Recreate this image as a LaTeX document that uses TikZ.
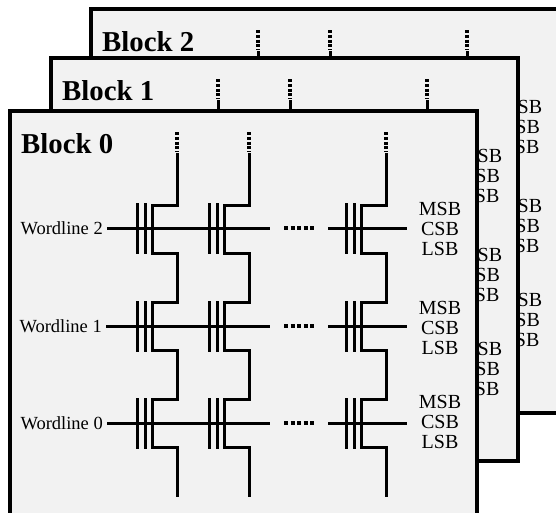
\documentclass[tikz,border=0pt]{standalone}
\usepackage{fontspec}
\setmainfont{Liberation Serif}
\usetikzlibrary{positioning}

\tikzset{
    blockframe/.style={draw=black, fill=black!5, line width=4.2pt, line join=miter},
    blocktitle/.style={anchor=west, inner sep=0pt, font=\bfseries\fontsize{28.8}{30}\selectfont},
    wltext/.style={anchor=east, inner xsep=4pt, inner ysep=0pt, font=\fontsize{18.5}{20}\selectfont},
    bittext/.style={align=center, inner sep=0pt, font=\fontsize{20}{20}\selectfont},
    wire/.style={line width=3pt, line join=miter},
    dotwire/.style={line width=3.8pt, dash pattern=on 3pt off 1.8pt},
    dothoriz/.style={line width=3.4pt, dash pattern=on 4pt off 2.5pt}
}

\begin{document}
\begin{tikzpicture}[x=1pt, y=-1pt]
    \clip (0,0) rectangle (556,512);
    \foreach \bx/\by/\bn/\bb in {81/-102/2/515, 41/-53/1/514, 0/0/0/522} {
        \begin{scope}[shift={(\bx,\by)}]
            \draw[blockframe] (10,111) rectangle (477,\bb);
            \node[blocktitle] (title\bn) at (21,144) {Block \bn};
            \foreach \col in {177,249,386} {
                \draw[dotwire] (\col,132) -- (\col,152);
                \draw[wire] (\col,153) -- (\col,205) -- (\col-25,205) -- (\col-25,253) -- (\col,253)
                    -- (\col,302) -- (\col-25,302) -- (\col-25,350) -- (\col,350)
                    -- (\col,399) -- (\col-25,399) -- (\col-25,447) -- (\col,447) -- (\col,497);
            }
            \foreach \row/\wy/\wx/\ty in {2/228/107/229, 1/326/106/328, 0/423/107/422} {
                \node[wltext] (wl\bn\row) at (\wx,\wy) {Wordline \row};
                \coordinate (wlend\bn\row) at (270,\wy);
                \coordinate (wlrest\bn\row) at (328,\wy);
                \coordinate (wlout\bn\row) at (407,\wy);
                \draw[wire] (wl\bn\row.east) -- (wlend\bn\row);
                \draw[wire] (wlrest\bn\row) -- (wlout\bn\row);
                \draw[dothoriz] (284,\wy) -- (315,\wy);
                \foreach \col in {177,249,386} {
                    \draw[wire] (\col-40,\wy-25) -- (\col-40,\wy+26);
                    \draw[wire] (\col-32,\wy-25) -- (\col-32,\wy+26);
                }
                \node[bittext] (bits\bn\row) at (440,\ty) {MSB\\CSB\\LSB};
            }
        \end{scope}
    }
\end{tikzpicture}
\end{document}
